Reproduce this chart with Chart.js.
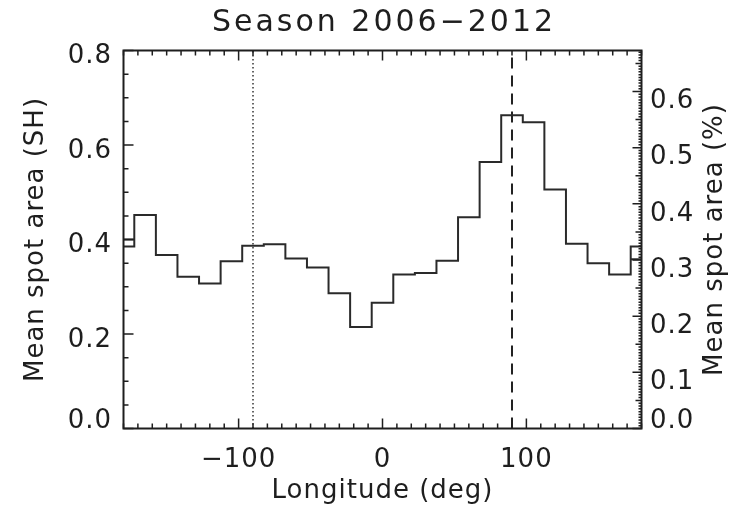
<!DOCTYPE html>
<html>
<head>
<meta charset="utf-8">
<title>Season 2006-2012</title>
<script src="https://cdn.jsdelivr.net/npm/chart.js@4.4.0/dist/chart.umd.min.js"></script>
<style>
    html, body { margin: 0; padding: 0; background: #fff; }
    #wrap { width: 740px; height: 514px; }
</style>
</head>
<body>
<div id="wrap"><canvas id="spot-chart" width="740" height="514"></canvas></div>
<script>
// longitude bin centres (deg) and mean spot area per bin (SH)
const longitudes = [-180, -165, -150, -135, -120, -105, -90, -75, -60, -45, -30, -15,
    0, 15, 30, 45, 60, 75, 90, 105, 120, 135, 150, 165, 180];
const meanArea = [0.385, 0.452, 0.367, 0.321, 0.307, 0.354, 0.387, 0.390, 0.360, 0.341, 0.286, 0.215,
    0.266, 0.326, 0.329, 0.355, 0.447, 0.564, 0.663, 0.648, 0.506, 0.391, 0.350, 0.326, 0.385];

// half bins at the wrap-around edges
const leftEdgeLon = [-180, -172.5];
const leftEdgeArea = [0.400, 0.400];
const rightEdgeLon = [172.5, 180];
const rightEdgeArea = [0.358, 0.358];

// reference longitudes
const dottedLon = -90;
const dashedLon = 90;

// axis ranges and labelled ticks
const xRange = [-180, 180];
const xLabels = [-100, 0, 100];
const yRange = [0, 0.8];
const yLabels = [0, 0.2, 0.4, 0.6, 0.8];
const y2Range = [0, 0.673];
const y2Labels = [0, 0.1, 0.2, 0.3, 0.4, 0.5, 0.6];

const TITLE = 'Season 2006\u22122012';
const Y2_TITLE = 'Mean spot area (%)';

const INK = '#1e1e1e';
const FONT = 'DejaVu Sans';

function toPoints(xs, ys) {
    return xs.map((x, i) => ({ x: x, y: ys[i] }));
}

function fmtLon(v) {
    return v < 0 ? '\u2212' + Math.abs(v) : String(v);
}

// y labels: the 0.0 label sits above the axis end, the others hang a bit
// below their tick. done with a two-line label and a per-tick line height
function yLabel(v) {
    const s = v.toFixed(1);
    return v === 0 ? [s, ''] : ['', s];
}
function yFont(drop) {
    return c => ({
        family: FONT,
        size: 26,
        lineHeight: (c.index === 0 ? 14 : drop * 2) + 'px'
    });
}

// wider letter spacing for all canvas text
const spacing = {
    id: 'spacing',
    beforeDraw(chart) {
        chart.ctx.letterSpacing = '1px';
    }
};

// inward ticks on all four sides, the box and the two titles
const frameTicks = {
    id: 'frameTicks',
    afterDraw(chart) {
        const { ctx, chartArea: a } = chart;
        const sx = chart.scales.x, sy = chart.scales.y, sy2 = chart.scales.y2;
        ctx.save();
        ctx.strokeStyle = INK;
        ctx.lineWidth = 1.5;
        ctx.beginPath();
        // longitude ticks, bottom and top
        for (let v = xRange[0]; v <= xRange[1]; v += 10) {
            const px = sx.getPixelForValue(v);
            const len = v % 100 === 0 ? 10 : 5;
            ctx.moveTo(px, a.bottom); ctx.lineTo(px, a.bottom - len);
            ctx.moveTo(px, a.top); ctx.lineTo(px, a.top + len);
        }
        // left axis ticks
        for (let i = 0; i <= 16; i++) {
            const py = sy.getPixelForValue(i * 0.05);
            const len = i % 4 === 0 ? 10 : 5;
            ctx.moveTo(a.left, py); ctx.lineTo(a.left + len, py);
        }
        // right axis ticks
        for (let i = 0; i * 0.005 <= y2Range[1]; i++) {
            const py = sy2.getPixelForValue(i * 0.005);
            const len = i % 20 === 0 ? 9 : (i % 10 === 0 ? 6 : 3);
            ctx.moveTo(a.right, py); ctx.lineTo(a.right - len, py);
        }
        ctx.stroke();
        ctx.lineWidth = 2;
        ctx.strokeRect(a.left, a.top, a.right - a.left, a.bottom - a.top);

        ctx.fillStyle = INK;
        ctx.textAlign = 'center';
        ctx.textBaseline = 'middle';

        // plot title
        ctx.font = '30px "' + FONT + '"';
        ctx.letterSpacing = '3px';
        ctx.fillText(TITLE, (a.left + a.right) / 2 + 1.5, 23);

        // right axis title reads bottom to top
        ctx.font = '26px "' + FONT + '"';
        ctx.letterSpacing = '1px';
        ctx.translate(715, (a.top + a.bottom) / 2);
        ctx.rotate(-Math.PI / 2);
        ctx.fillText(Y2_TITLE, 0, 0);
        ctx.restore();
    }
};

const ctx = document.getElementById('spot-chart').getContext('2d');
new Chart(ctx, {
    type: 'line',
    data: {
        datasets: [
            {
                data: toPoints(longitudes, meanArea),
                stepped: 'middle',
                borderColor: '#2a2a2a',
                borderWidth: 2,
                pointRadius: 0
            },
            {
                data: toPoints(leftEdgeLon, leftEdgeArea),
                borderColor: '#2a2a2a',
                borderWidth: 2,
                pointRadius: 0
            },
            {
                data: toPoints(rightEdgeLon, rightEdgeArea),
                borderColor: '#2a2a2a',
                borderWidth: 2,
                pointRadius: 0
            },
            {
                data: toPoints([dottedLon, dottedLon], yRange),
                borderColor: '#333',
                borderWidth: 1.5,
                borderDash: [1.5, 2.5],
                pointRadius: 0
            },
            {
                data: toPoints([dashedLon, dashedLon], yRange),
                borderColor: '#222',
                borderWidth: 2,
                borderDash: [11, 7],
                pointRadius: 0
            }
        ]
    },
    options: {
        responsive: false,
        animation: false,
        layout: { padding: { top: 50.5 } },
        plugins: {
            legend: { display: false },
            tooltip: { enabled: false }
        },
        scales: {
            x: {
                type: 'linear',
                min: xRange[0],
                max: xRange[1],
                afterBuildTicks: s => { s.ticks = xLabels.map(v => ({ value: v })); },
                afterFit: s => { s.height = 85.5; },
                grid: { display: false, drawTicks: false },
                border: { display: false },
                ticks: {
                    color: INK,
                    font: { family: FONT, size: 26 },
                    padding: 16,
                    maxRotation: 0,
                    callback: v => fmtLon(v)
                },
                title: {
                    display: true,
                    text: 'Longitude (deg)',
                    color: INK,
                    font: { family: FONT, size: 26 },
                    padding: { top: 0, bottom: 7 }
                }
            },
            y: {
                position: 'left',
                min: yRange[0],
                max: yRange[1],
                afterBuildTicks: s => { s.ticks = yLabels.map(v => ({ value: v })); },
                afterFit: s => { s.width = 123.5; },
                grid: { display: false, drawTicks: false },
                border: { display: false },
                ticks: {
                    color: INK,
                    font: yFont(6),
                    padding: 11.5,
                    callback: v => yLabel(v)
                },
                title: {
                    display: true,
                    text: 'Mean spot area (SH)',
                    color: INK,
                    font: { family: FONT, size: 26 },
                    padding: { top: 21, bottom: 0 }
                }
            },
            y2: {
                position: 'right',
                min: y2Range[0],
                max: y2Range[1],
                afterBuildTicks: s => { s.ticks = y2Labels.map(v => ({ value: v })); },
                afterFit: s => { s.width = 98.5; },
                grid: { display: false, drawTicks: false },
                border: { display: false },
                ticks: {
                    color: INK,
                    font: yFont(10),
                    padding: 8.5,
                    callback: v => yLabel(v)
                }
            }
        }
    },
    plugins: [spacing, frameTicks]
});
</script>
</body>
</html>
